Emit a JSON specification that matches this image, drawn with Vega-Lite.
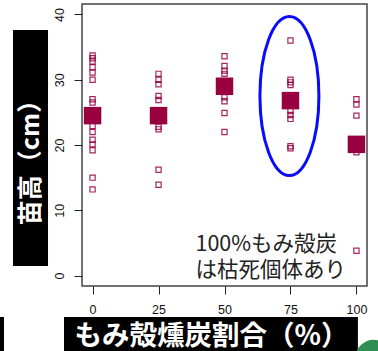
{
  "$schema": "https://vega.github.io/schema/vega-lite/v6.json",
  "width": 285,
  "height": 282,
  "autosize": {"type": "none"},
  "padding": {"left": 82, "top": 4, "right": 11, "bottom": 65},
  "background": "white",
  "config": {
    "view": {"stroke": "#444", "strokeWidth": 1.5},
    "axis": {
      "grid": false,
      "domain": false,
      "tickSize": 8,
      "tickColor": "#222",
      "tickWidth": 1,
      "labelFont": "Liberation Sans",
      "labelFontSize": 12.5,
      "labelColor": "#111",
      "titleFont": "Noto Sans CJK JP",
      "titleFontWeight": "bold",
      "titleColor": "white"
    },
    "axisX": {
      "labelPadding": 9,
      "labelAngle": 0,
      "titleAngle": 0,
      "titleFontSize": 27.5,
      "titleX": 129,
      "titleY": 50,
      "titleAlign": "center",
      "titleBaseline": "middle"
    },
    "axisY": {
      "labelAngle": 270,
      "labelPadding": 8,
      "titleAngle": 270,
      "titleFontSize": 25,
      "titleX": -52,
      "titleY": 152,
      "titleAlign": "center",
      "titleBaseline": "middle"
    }
  },
  "datasets": {
    "plants": [
      {"ratio": 0, "height": 33.7}, {"ratio": 0, "height": 33.3}, {"ratio": 0, "height": 32.8},
      {"ratio": 0, "height": 31.9}, {"ratio": 0, "height": 31.1}, {"ratio": 0, "height": 30.0},
      {"ratio": 0, "height": 27.0}, {"ratio": 0, "height": 26.5}, {"ratio": 0, "height": 22.9},
      {"ratio": 0, "height": 22.0}, {"ratio": 0, "height": 20.8}, {"ratio": 0, "height": 20.1},
      {"ratio": 0, "height": 19.2}, {"ratio": 0, "height": 15.0}, {"ratio": 0, "height": 13.2},
      {"ratio": 25, "height": 30.9}, {"ratio": 25, "height": 30.0}, {"ratio": 25, "height": 29.3},
      {"ratio": 25, "height": 27.5}, {"ratio": 25, "height": 26.9}, {"ratio": 25, "height": 22.8},
      {"ratio": 25, "height": 22.4}, {"ratio": 25, "height": 16.2}, {"ratio": 25, "height": 13.9},
      {"ratio": 50, "height": 33.6}, {"ratio": 50, "height": 32.1}, {"ratio": 50, "height": 31.4},
      {"ratio": 50, "height": 30.9}, {"ratio": 50, "height": 27.3}, {"ratio": 50, "height": 26.7},
      {"ratio": 50, "height": 24.9}, {"ratio": 50, "height": 22.0},
      {"ratio": 75, "height": 36.0}, {"ratio": 75, "height": 30.0}, {"ratio": 75, "height": 29.6},
      {"ratio": 75, "height": 29.2}, {"ratio": 75, "height": 25.2}, {"ratio": 75, "height": 24.6},
      {"ratio": 75, "height": 24.0}, {"ratio": 75, "height": 19.8}, {"ratio": 75, "height": 19.5},
      {"ratio": 100, "height": 27.0}, {"ratio": 100, "height": 26.2}, {"ratio": 100, "height": 24.5},
      {"ratio": 100, "height": 18.9}, {"ratio": 100, "height": 3.8}
    ],
    "means": [
      {"ratio": 0, "height": 24.5},
      {"ratio": 25, "height": 24.5},
      {"ratio": 50, "height": 29.0},
      {"ratio": 75, "height": 26.8},
      {"ratio": 100, "height": 20.1}
    ]
  },
  "layer": [
    {
      "data": {"name": "plants"},
      "mark": {"type": "square", "filled": false, "color": "#99003F", "strokeWidth": 1.2, "size": 27, "opacity": 0.85},
      "encoding": {
        "x": {
          "field": "ratio",
          "type": "quantitative",
          "scale": {"domain": [-4, 104], "nice": false, "zero": false},
          "axis": {"values": [0, 25, 50, 75, 100], "title": "もみ殻燻炭割合（%）", "zindex": 2}
        },
        "y": {
          "field": "height",
          "type": "quantitative",
          "scale": {"domain": [-1.6, 41.6], "nice": false, "zero": false},
          "axis": {"values": [0, 10, 20, 30, 40], "title": "苗高（cm）", "zindex": 2}
        }
      }
    },
    {
      "data": {"name": "means"},
      "mark": {"type": "square", "filled": true, "color": "#99003F", "size": 306, "opacity": 1},
      "encoding": {
        "x": {"field": "ratio", "type": "quantitative"},
        "y": {"field": "height", "type": "quantitative"}
      }
    },
    {
      "data": {"values": [{}]},
      "mark": {
        "type": "point",
        "shape": "M -0.371 0 A 0.371 1 0 1 1 0.371 0 A 0.371 1 0 1 1 -0.371 0 Z",
        "filled": false,
        "color": "#0a0aff",
        "strokeWidth": 3,
        "size": 25281,
        "opacity": 1
      },
      "encoding": {
        "x": {"datum": 74.6, "type": "quantitative"},
        "y": {"datum": 27.5, "type": "quantitative"}
      }
    },
    {
      "data": {"values": [{}]},
      "mark": {
        "type": "text",
        "text": ["100%もみ殻炭", "は枯死個体あり"],
        "align": "left",
        "baseline": "top",
        "font": "Noto Sans CJK JP",
        "fontSize": 21.5,
        "lineHeight": 25.5,
        "color": "#222"
      },
      "encoding": {
        "x": {"datum": 39, "type": "quantitative"},
        "y": {"datum": 6.3, "type": "quantitative"}
      }
    },
    {
      "data": {"values": [{}]},
      "mark": {"type": "rect", "color": "black"},
      "encoding": {
        "x": {"datum": -30.15, "type": "quantitative"},
        "x2": {"datum": -16.88},
        "y": {"datum": 37.62, "type": "quantitative"},
        "y2": {"datum": 1.46}
      }
    },
    {
      "data": {"values": [{}]},
      "mark": {"type": "rect", "color": "black"},
      "encoding": {
        "x": {"datum": -10.82, "type": "quantitative"},
        "x2": {"datum": 100.55},
        "y": {"datum": -6.35, "type": "quantitative"},
        "y2": {"datum": -12.5}
      }
    },
    {
      "data": {"values": [{}]},
      "mark": {"type": "rect", "color": "black"},
      "encoding": {
        "x": {"datum": -36, "type": "quantitative"},
        "x2": {"datum": -33.56},
        "y": {"datum": -6.35, "type": "quantitative"},
        "y2": {"datum": -12.5}
      }
    },
    {
      "data": {"values": [{}]},
      "mark": {"type": "point", "shape": "circle", "filled": true, "color": "#2f8f52", "opacity": 1, "size": 1300},
      "encoding": {
        "x": {"datum": 106.5, "type": "quantitative"},
        "y": {"datum": -12.6, "type": "quantitative"}
      }
    }
  ]
}
